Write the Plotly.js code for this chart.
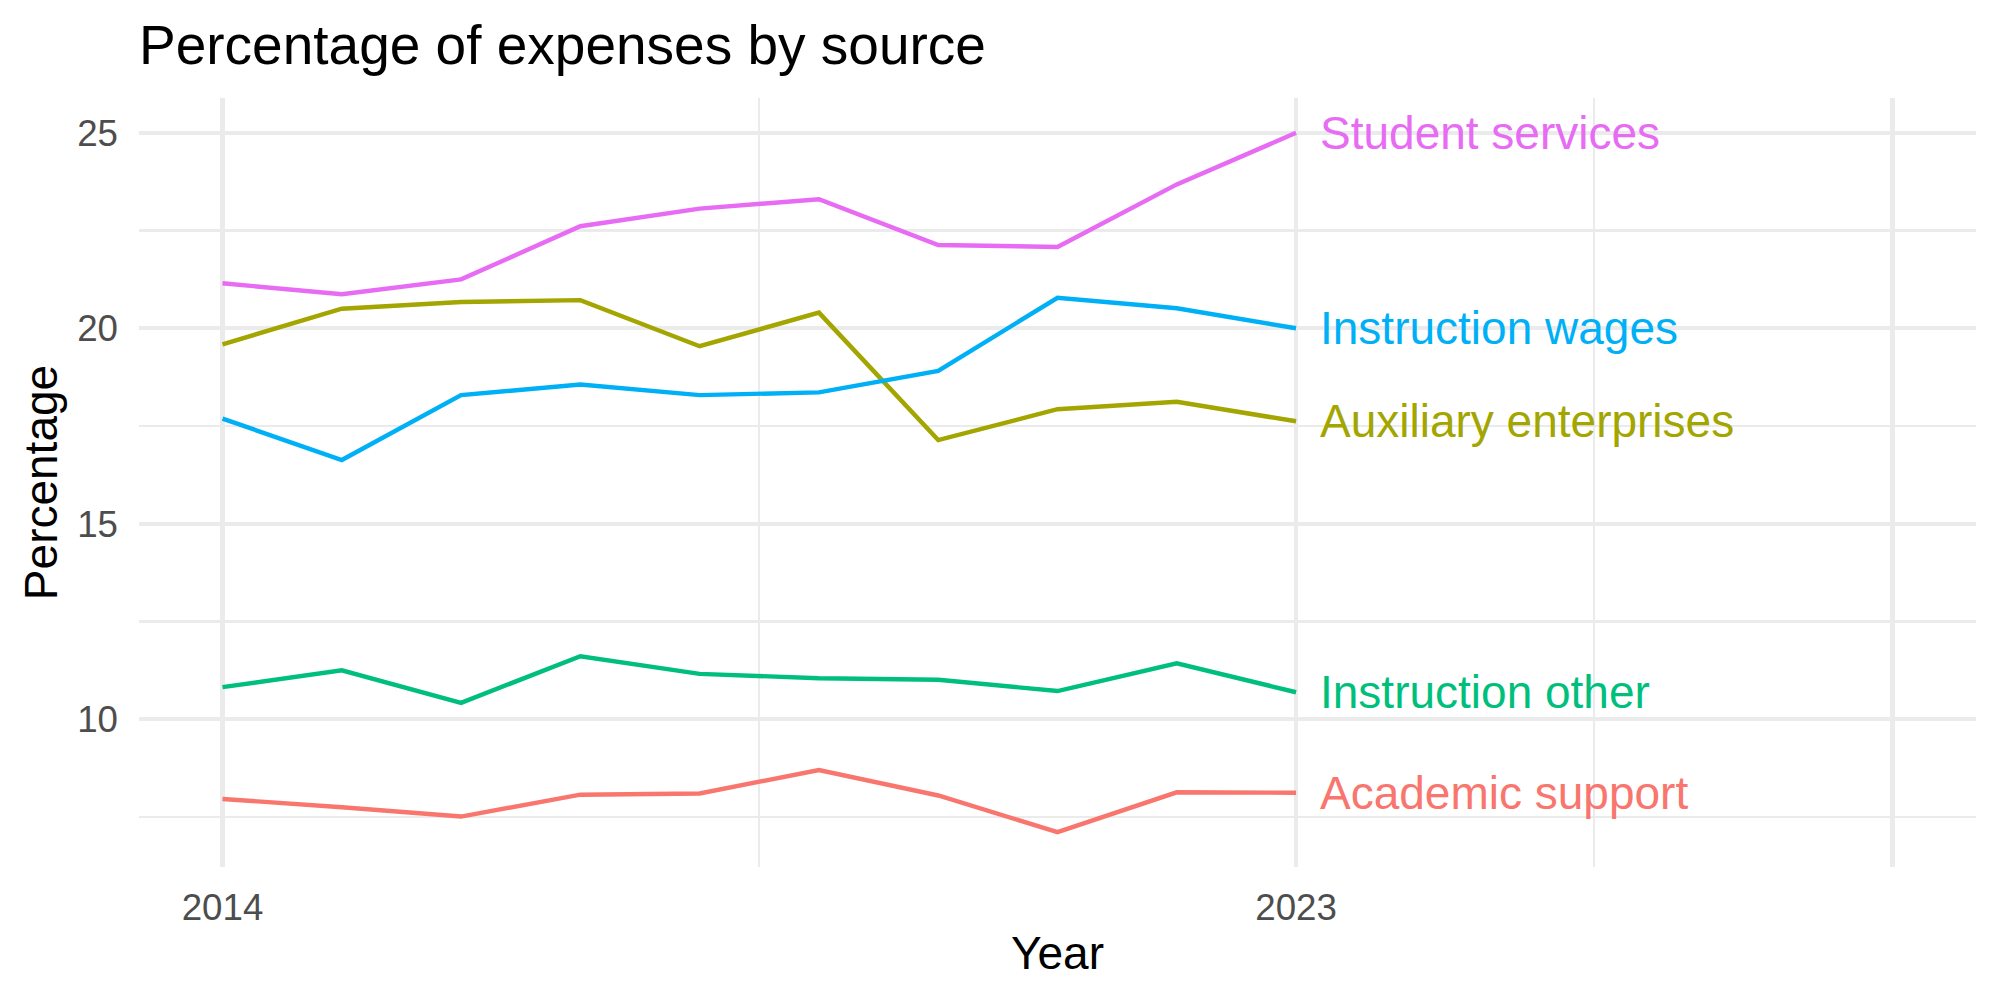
<!DOCTYPE html>
<html>
<head>
<meta charset="utf-8">
<script src="https://cdn.plot.ly/plotly-3.0.1.min.js"></script>
<style>html,body{margin:0;padding:0;background:#fff;}#chart{width:2000px;height:1000px;}</style>
</head>
<body>
<div id="chart"></div>
<script>
const years = [2014, 2015, 2016, 2017, 2018, 2019, 2020, 2021, 2022, 2023];
const categories = ["Academic support", "Auxiliary enterprises", "Instruction other", "Instruction wages", "Student services"];
const academicSupport = [7.96, 7.75, 7.51, 8.07, 8.10, 8.70, 8.05, 7.11, 8.13, 8.12];
const auxiliaryEnterprises = [19.59, 20.50, 20.67, 20.72, 19.54, 20.40, 17.14, 17.93, 18.12, 17.62];
const instructionOther = [10.82, 11.25, 10.42, 11.61, 11.16, 11.05, 11.01, 10.72, 11.43, 10.69];
const instructionWages = [17.69, 16.63, 18.29, 18.56, 18.29, 18.36, 18.91, 20.78, 20.51, 20.00];
const studentServices = [21.15, 20.87, 21.25, 22.61, 23.06, 23.30, 22.13, 22.08, 23.68, 25.00];
const colors = ["#F8766D", "#A3A500", "#00BF7D", "#00B0F6", "#E76BF3"];
const xTickVals = [2014, 2023, 2028];
const xTickText = ["2014", "2023", ""];
const xMinorVals = [2018.5, 2025.5];
const yTickVals = [10, 15, 20, 25];
const yTickText = ["10", "15", "20", "25"];
const yMinorVals = [7.5, 12.5, 17.5, 22.5];
const labelNudge = 0.2;

const series = [academicSupport, auxiliaryEnterprises, instructionOther, instructionWages, studentServices];
const font = "Liberation Sans, Arial, Helvetica, sans-serif";

const traces = categories.map((c, i) => ({
  x: years, y: series[i], type: "scatter", mode: "lines", name: c,
  line: {color: colors[i], width: 4.45}, hoverinfo: "skip"
}));

const lastYear = years[years.length - 1];
const annotations = categories.map((c, i) => ({
  x: lastYear + labelNudge, y: series[i][series[i].length - 1], xref: "x", yref: "y",
  text: c, showarrow: false, xanchor: "left", yanchor: "middle", xshift: -2, yshift: 0,
  font: {family: font, size: 46, color: colors[i]}
}));

const layout = {
  width: 2000, height: 1000,
  margin: {l: 139, r: 24, t: 98, b: 133, pad: 0},
  paper_bgcolor: "#FFFFFF", plot_bgcolor: "#FFFFFF",
  showlegend: false,
  title: {text: "Percentage of expenses by source", x: 0.0695, xref: "container", xanchor: "left",
          y: 0.975, yref: "container", yanchor: "top",
          font: {family: font, size: 55, color: "#000000"}},
  xaxis: {
    range: [2013.3, 2028.7], tickmode: "array", tickvals: xTickVals, ticktext: xTickText,
    showgrid: true, gridcolor: "#EBEBEB", gridwidth: 4.45, zeroline: false, showline: false, ticks: "",
    tickfont: {family: font, size: 36.7, color: "#4D4D4D"}, ticklabelstandoff: 15,
    minor: {tickmode: "array", tickvals: xMinorVals, showgrid: true, gridcolor: "#EBEBEB", gridwidth: 2.2, ticks: ""},
    title: {text: "Year", font: {family: font, size: 46, color: "#000000"}, standoff: 10},
    automargin: false
  },
  yaxis: {
    range: [6.22, 25.89], tickmode: "array", tickvals: yTickVals, ticktext: yTickText,
    showgrid: true, gridcolor: "#EBEBEB", gridwidth: 4.45, zeroline: false, showline: false, ticks: "",
    tickfont: {family: font, size: 36.7, color: "#4D4D4D"}, ticklabelstandoff: 20,
    minor: {tickmode: "array", tickvals: yMinorVals, showgrid: true, gridcolor: "#EBEBEB", gridwidth: 2.2, ticks: ""},
    title: {text: "Percentage", font: {family: font, size: 46, color: "#000000"}, standoff: 5},
    automargin: false
  },
  annotations: annotations
};

Plotly.newPlot("chart", traces, layout, {staticPlot: true, displayModeBar: false});
</script>
</body>
</html>
